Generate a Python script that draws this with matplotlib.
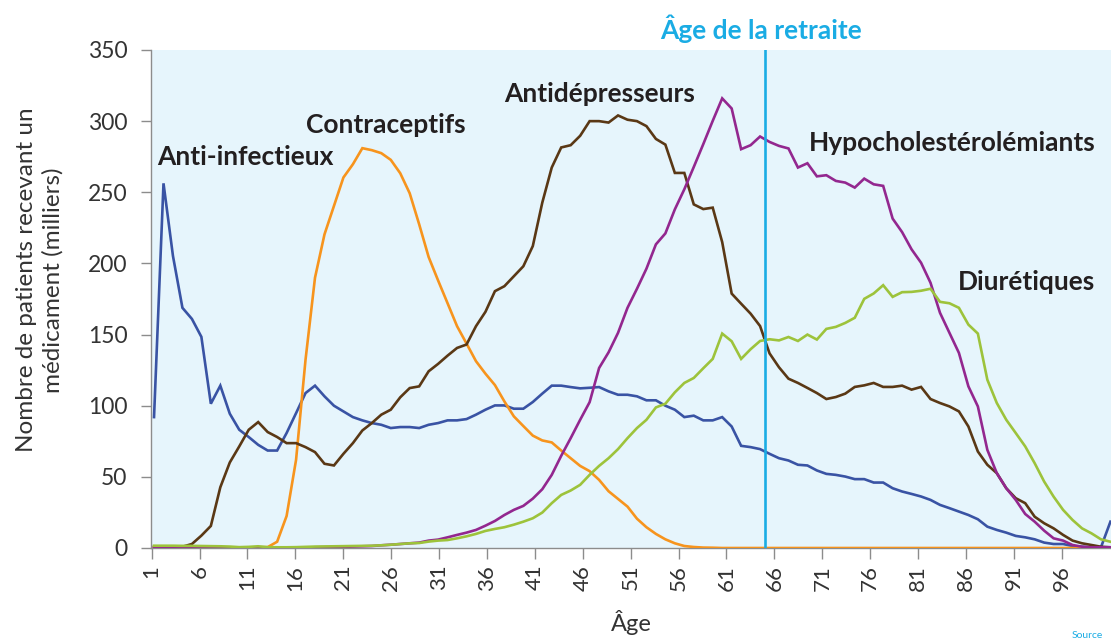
import numpy as np
import matplotlib
matplotlib.use("Agg")
import matplotlib.pyplot as plt

# ---------------- data (thousands of patients), one value per age step ----------------
tick_labels = [1, 6, 11, 16, 21, 26, 31, 36, 41, 46, 51, 56, 61, 66, 71, 76, 81, 86, 91, 96]

anti_infectieux = [
    92.0, 256.3, 205.2, 168.8, 161.0, 148.4, 101.4, 114.1, 94.4, 83.1,
    78.0, 72.5, 68.5, 68.5, 80.8, 94.8, 108.9, 114.1, 106.6, 100.0,
    96.0, 92.0, 89.7, 87.8, 86.6, 84.3, 85.0, 85.0, 84.3, 86.6,
    87.8, 89.7, 89.7, 90.6, 93.7, 97.2, 100.2, 100.2, 97.9, 97.9,
    102.6, 108.5, 114.1, 114.1, 113.1, 112.2, 112.6, 113.1, 110.1, 107.7,
    107.7, 106.6, 103.8, 103.8, 100.0, 97.2, 92.0, 93.0, 89.7, 89.7,
    92.0, 85.4, 71.8, 70.9, 69.5, 66.2, 63.1, 61.5, 58.5, 58.0,
    54.5, 52.1, 51.4, 50.2, 48.4, 48.4, 46.0, 46.0, 42.0, 39.7,
    38.0, 36.2, 33.8, 30.3, 28.0, 25.6, 23.2, 20.2, 15.0, 12.7,
    10.8, 8.5, 7.5, 6.1, 3.8, 2.8, 2.8, 1.4, 0.9, 0.5,
    0.5, 18.5]

contraceptifs = [
    0.2, 0.2, 0.2, 0.2, 0.2, 0.2, 0.2, 0.2, 0.2, 0.2,
    0.3, 0.5, 0.6, 4.4, 22.5, 62.0, 132.4, 190.0, 220.4, 240.4,
    260.4, 269.7, 281.0, 279.6, 277.5, 272.8, 263.4, 249.3, 227.5, 204.5,
    188.0, 172.0, 155.9, 143.7, 131.3, 122.5, 114.5, 103.0, 92.5, 85.7,
    79.0, 75.6, 74.2, 68.5, 63.1, 57.7, 54.0, 47.9, 39.9, 34.5,
    29.1, 20.6, 14.6, 9.9, 6.1, 3.3, 1.4, 0.7, 0.3, 0.2,
    0.0, 0.0, 0.0, 0.0, 0.0, 0.0, 0.0, 0.0, 0.0, 0.0,
    0.0, 0.0, 0.0, 0.0, 0.0, 0.0, 0.0, 0.0, 0.0, 0.0,
    0.0, 0.0, 0.0, 0.0, 0.0, 0.0, 0.0, 0.0, 0.0, 0.0,
    0.0, 0.0, 0.0, 0.0, 0.0, 0.0, 0.0, 0.0, 0.0, 0.0,
    0.0, 0.0]

antidepresseurs = [
    0.9, 0.9, 0.9, 0.9, 2.8, 8.7, 15.5, 42.7, 60.1, 71.4,
    83.1, 88.5, 81.5, 78.0, 73.7, 73.7, 70.9, 67.4, 59.2, 58.0,
    66.2, 73.7, 82.6, 87.8, 93.7, 97.2, 105.9, 112.4, 113.6, 124.2,
    129.4, 135.2, 140.6, 143.0, 155.9, 166.0, 180.5, 184.0, 191.0, 198.0,
    212.2, 242.7, 267.4, 281.5, 283.1, 289.7, 300.0, 300.0, 299.0, 304.0,
    301.0, 300.0, 296.5, 287.5, 283.5, 263.6, 263.6, 241.5, 238.2, 239.2,
    215.0, 178.8, 171.7, 164.7, 156.0, 136.8, 127.0, 119.0, 116.0, 112.5,
    108.9, 104.7, 106.1, 108.5, 113.2, 114.3, 116.0, 113.2, 113.2, 114.1,
    111.3, 113.2, 104.7, 101.9, 99.5, 96.0, 85.4, 67.8, 58.5, 52.6,
    42.0, 35.0, 31.5, 22.0, 17.4, 13.8, 9.2, 5.2, 3.3, 2.1,
    0.9, 0.5]

hypocholesterolemiants = [
    0.3, 0.3, 0.3, 0.3, 0.3, 0.3, 0.3, 0.3, 0.3, 0.3,
    0.3, 0.3, 0.3, 0.3, 0.3, 0.3, 0.4, 0.5, 0.6, 0.7,
    0.8, 1.0, 1.2, 1.4, 1.9, 2.3, 2.8, 3.3, 3.8, 5.2,
    5.9, 7.5, 9.2, 10.8, 12.7, 15.7, 19.0, 23.2, 26.8, 29.6,
    34.7, 41.3, 51.4, 64.8, 77.2, 90.1, 102.5, 126.5, 137.5, 151.2,
    168.8, 182.2, 196.3, 213.4, 221.1, 238.0, 252.1, 267.8, 283.8, 300.2,
    316.0, 308.9, 280.3, 283.1, 289.2, 285.4, 282.6, 280.8, 267.4, 270.4,
    261.2, 262.0, 258.0, 256.8, 253.3, 259.6, 255.6, 254.5, 231.5, 222.0,
    209.9, 200.5, 186.4, 165.3, 151.2, 137.1, 113.6, 99.5, 69.0, 52.6,
    42.0, 33.8, 23.9, 18.5, 12.2, 6.8, 5.2, 2.1, 0.9, 0.5,
    0.5, 0.5]

diuretiques = [
    1.6, 1.6, 1.6, 1.5, 1.5, 1.4, 1.3, 1.2, 1.0, 0.6,
    0.8, 1.2, 0.6, 0.5, 0.5, 0.6, 0.8, 1.0, 1.1, 1.2,
    1.3, 1.4, 1.5, 1.6, 1.9, 2.3, 2.8, 3.3, 3.5, 4.5,
    5.2, 5.6, 6.8, 8.2, 9.9, 12.0, 13.4, 14.6, 16.4, 18.5,
    20.9, 24.9, 31.5, 37.3, 40.4, 44.4, 51.4, 57.7, 63.1, 69.5,
    77.2, 84.3, 90.1, 98.8, 101.4, 109.4, 116.0, 119.5, 126.3, 132.9,
    150.7, 145.3, 132.9, 139.7, 145.5, 146.7, 145.9, 148.3, 145.5, 150.0,
    146.5, 154.0, 155.4, 158.2, 161.8, 175.1, 178.9, 184.7, 176.5, 179.8,
    180.0, 180.8, 182.2, 173.0, 172.0, 168.8, 157.0, 150.7, 118.3, 101.9,
    90.1, 80.8, 71.4, 59.6, 46.7, 36.1, 26.8, 19.7, 13.8, 10.3,
    6.1, 4.4]

retirement_index = 64.5

# ---------------- style ----------------
BG = "#E6F5FC"
C_BLUE = "#3953A4"
C_ORANGE = "#F7941D"
C_BROWN = "#5A3815"
C_PURPLE = "#93278F"
C_GREEN = "#9DC33B"
C_CYAN = "#1AACE4"
C_TEXT = "#231F20"
C_AXIS = "#8C8C8C"

BOLD = ["Lato", "DejaVu Sans"]
REGULAR = ["Lato", "DejaVu Sans"]

W, H = 1111, 641
fig = plt.figure(figsize=(W / 100, H / 100), dpi=100)
ax = fig.add_axes([151 / W, 93 / H, 960 / W, 498 / H])
ax.set_facecolor(BG)

x = np.arange(len(anti_infectieux))
lw = 1.9
order = [
    (anti_infectieux, C_BLUE),
    (contraceptifs, C_ORANGE),
    (antidepresseurs, C_BROWN),
    (hypocholesterolemiants, C_PURPLE),
    (diuretiques, C_GREEN),
]
for vals, col in order:
    ax.plot(x, vals, color=col, lw=lw, solid_joinstyle="miter", zorder=3)

ax.axvline(retirement_index, color=C_CYAN, lw=1.9, zorder=4)

ax.set_xlim(-0.32, 101.06)
ax.set_ylim(0, 350)

tick_step = 1.0117  # label spacing in data steps
tick_pos = [(k - 1) * tick_step - 0.25 for k in tick_labels]
ax.set_xticks(tick_pos)
ax.set_xticklabels([str(k) for k in tick_labels], rotation=90,
                   fontsize=16, family=REGULAR, color="#333333")
ax.set_yticks(np.arange(0, 351, 50))
ax.set_yticklabels([str(v) for v in range(0, 351, 50)],
                   fontsize=16.5, family=REGULAR, color="#333333")
ax.tick_params(axis="x", length=8, width=1, color=C_AXIS, pad=4)
ax.tick_params(axis="y", length=7, width=1, color=C_AXIS, pad=10)

for s in ["top", "right"]:
    ax.spines[s].set_visible(False)
for s in ["left", "bottom"]:
    ax.spines[s].set_color(C_AXIS)
    ax.spines[s].set_linewidth(1.0)

ax.set_xlabel("Âge", fontsize=17, family=REGULAR, color="#333333", labelpad=14)
fig.text(40 / W, 1 - 280 / H, "Nombre de patients recevant un\nmédicament (milliers)",
         rotation=90, ha="center", va="center", fontsize=17.5,
         family=REGULAR, color="#333333", linespacing=1.3)

lab_kw = dict(fontsize=19, fontweight="bold", family=BOLD, color=C_TEXT,
              va="center", ha="left", zorder=5)
ax.text(0.32, 275, "Anti-infectieux", **lab_kw)
ax.text(16.05, 297.6, "Contraceptifs", **lab_kw)
ax.text(36.96, 319.4, "Antidépresseurs", **lab_kw)
ax.text(69.17, 284.9, "Hypocholestérolémiants", **lab_kw)
ax.text(84.9, 187.1, "Diurétiques", **lab_kw)
ax.text(retirement_index - 0.35, 365, "Âge de la retraite", fontsize=19,
        fontweight="bold", family=BOLD, color=C_CYAN, ha="center",
        va="center", clip_on=False)

fig.text(1072 / W, 1 - 636 / H, "Source", fontsize=7.5, color=C_CYAN,
         family=REGULAR, ha="left", va="center")

fig.savefig("out.png", dpi=100)
